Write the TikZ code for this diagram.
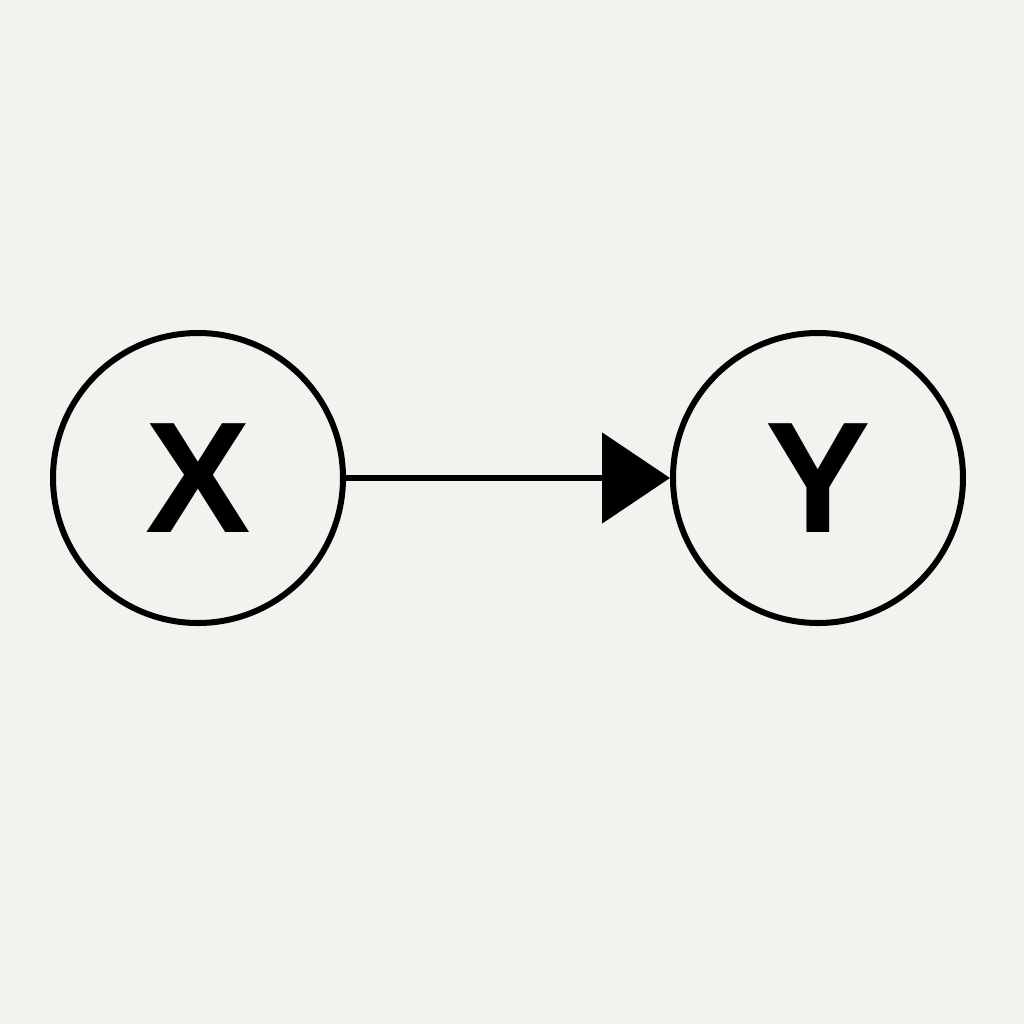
\documentclass[tikz,border=0pt]{standalone}
\usepackage{fontspec}
\setmainfont{Liberation Sans}
\usetikzlibrary{arrows.meta}
\definecolor{paper}{HTML}{F3F2EF}
\begin{document}
\begin{tikzpicture}[varstyle/.style={circle,draw,line width=0.06cm,minimum size=2.9cm,inner sep=0pt,font=\fontsize{45}{45}\selectfont\bfseries}]

    \newcommand*{\rowy}{-4.78}%

    \fill [paper] (0,0) rectangle (10.24,-10.24);
    \useasboundingbox (0,0) rectangle (10.24,-10.24);

    % variables ↓
    \node [varstyle] (x) at (1.98,\rowy) {X};
    \node [varstyle] (y) at (8.18,\rowy) {Y};

    % effect ↓
    \draw [line width=0.055cm, -{Triangle[length=0.68cm,width=0.9cm]}] (x) -- (y);

\end{tikzpicture}
\end{document}
